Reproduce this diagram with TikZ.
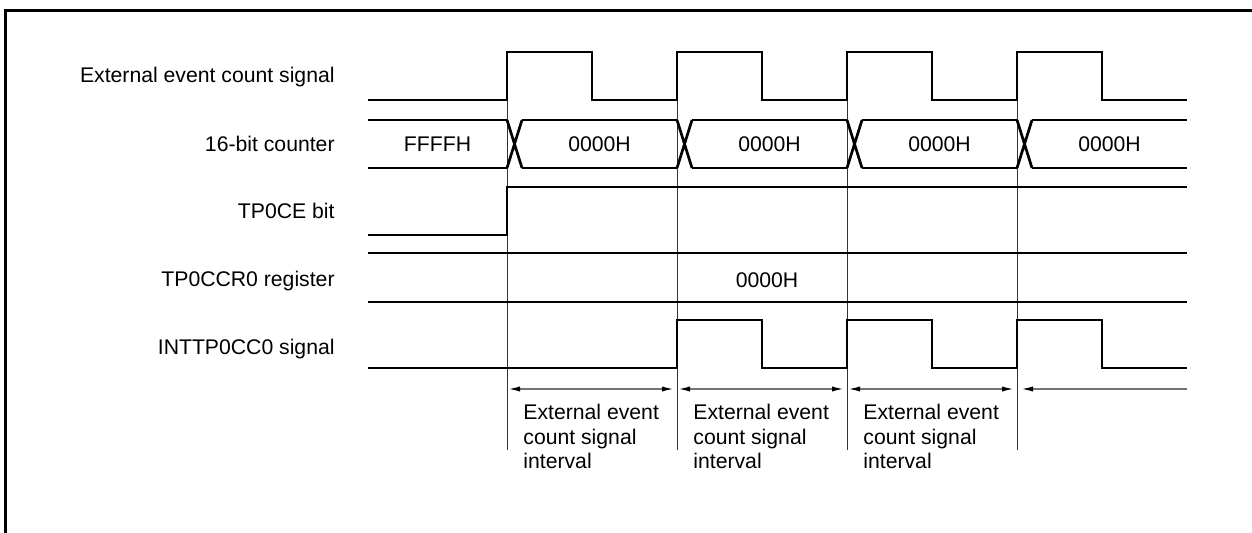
\documentclass[tikz,border=0pt]{standalone}
\usepackage{fontspec}
\setmainfont{Liberation Sans}
\usepackage{tikz}
\usetikzlibrary{arrows.meta}
\tikzset{
  sig/.style={line width=1.35pt, line join=miter},
  guide/.style={line width=0.5pt, black!80},
  tip/.style={Latex[length=6pt,width=2.6pt,color=black]},
  span/.style={
    line width=0.8pt, black!55, shorten <=0.5pt, shorten >=1.5pt,
    {Latex[length=6pt,width=2.6pt,color=black]}-{Latex[length=6pt,width=2.6pt,color=black]}
  },
  spanl/.style={
    line width=0.8pt, black!55, shorten <=2pt,
    {Latex[length=6pt,width=2.6pt,color=black]}-
  },
  lbl/.style={anchor=base east, inner sep=0pt, font=\fontsize{10.6}{12.25}\selectfont},
  val/.style={inner sep=0pt, font=\fontsize{10.6}{12.25}\selectfont},
  note/.style={
    anchor=north west, align=left, inner sep=0pt,
    font=\fontsize{10.6}{12.25}\selectfont
  },
}
\begin{document}
\begin{tikzpicture}[x=0.5pt, y=-0.5pt]

  \useasboundingbox (0,0) rectangle (1252,533);

  % Frame
  \draw[line width=1.5pt] (1252,11) -- (5,11) -- (5,533);

  % Signal names
  \node[lbl] (extl) at (335,82.5)  {External event count signal};
  \node[lbl] (cntl) at (335,151.5) {16-bit counter};
  \node[lbl] (cel)  at (335,218.5) {TP0CE bit};
  \node[lbl] (ccrl) at (335,286.5) {TP0CCR0 register};
  \node[lbl] (intl) at (335,354.5) {INTTP0CC0 signal};

  % Guide lines
  \foreach \x in {507,677,847,1017}
    \draw[guide] (\x,52) -- (\x,450);

  % External event count signal
  \draw[sig] (368,100)
    foreach \x in {507,677,847,1017} { -- (\x,100) -- (\x,52) -- (\x+85,52) -- (\x+85,100) }
    -- (1187,100);

  % 16-bit counter
  \draw[sig] (368,120) -- (507,120) (368,168) -- (507,168);
  \foreach \x in {507,677,847,1017}
    \draw[sig] (\x,120) -- (\x+15,168) (\x,168) -- (\x+15,120);
  \foreach \a/\b in {522/677,692/847,862/1017,1032/1187}
    \draw[sig] (\a,120) -- (\b,120) (\a,168) -- (\b,168);

  \node[val] (ffff) at (437.5,144) {FFFFH};
  \node[val] (c1) at (599.5,144)  {0000H};
  \node[val] (c2) at (769.5,144)  {0000H};
  \node[val] (c3) at (939.5,144)  {0000H};
  \node[val] (c4) at (1109.5,144) {0000H};

  % TP0CE bit
  \draw[sig] (368,235) -- (507,235) -- (507,187) -- (1187,187);

  % TP0CCR0 register
  \draw[sig] (368,253) -- (1187,253) (368,302) -- (1187,302);
  \node[val] (ccr) at (767,280) {0000H};

  % INTTP0CC0 signal
  \draw[sig] (368,368)
    foreach \x in {677,847,1017} { -- (\x,368) -- (\x,320) -- (\x+85,320) -- (\x+85,368) }
    -- (1187,368);

  % Intervals
  \coordinate (t1) at (507,389);
  \coordinate (t2) at (677,389);
  \coordinate (t3) at (847,389);
  \coordinate (t4) at (1017,389);
  \coordinate (t5) at (1187,389);

  \draw[span]  (t1) -- (t2);
  \draw[span]  (t2) -- (t3);
  \draw[span]  (t3) -- (t4);
  \draw[spanl] (t4) -- (t5);

  \node[note] (n1) at (523,404) {External event\\count signal\\interval};
  \node[note] (n2) at (693,404) {External event\\count signal\\interval};
  \node[note] (n3) at (863,404) {External event\\count signal\\interval};

\end{tikzpicture}
\end{document}
